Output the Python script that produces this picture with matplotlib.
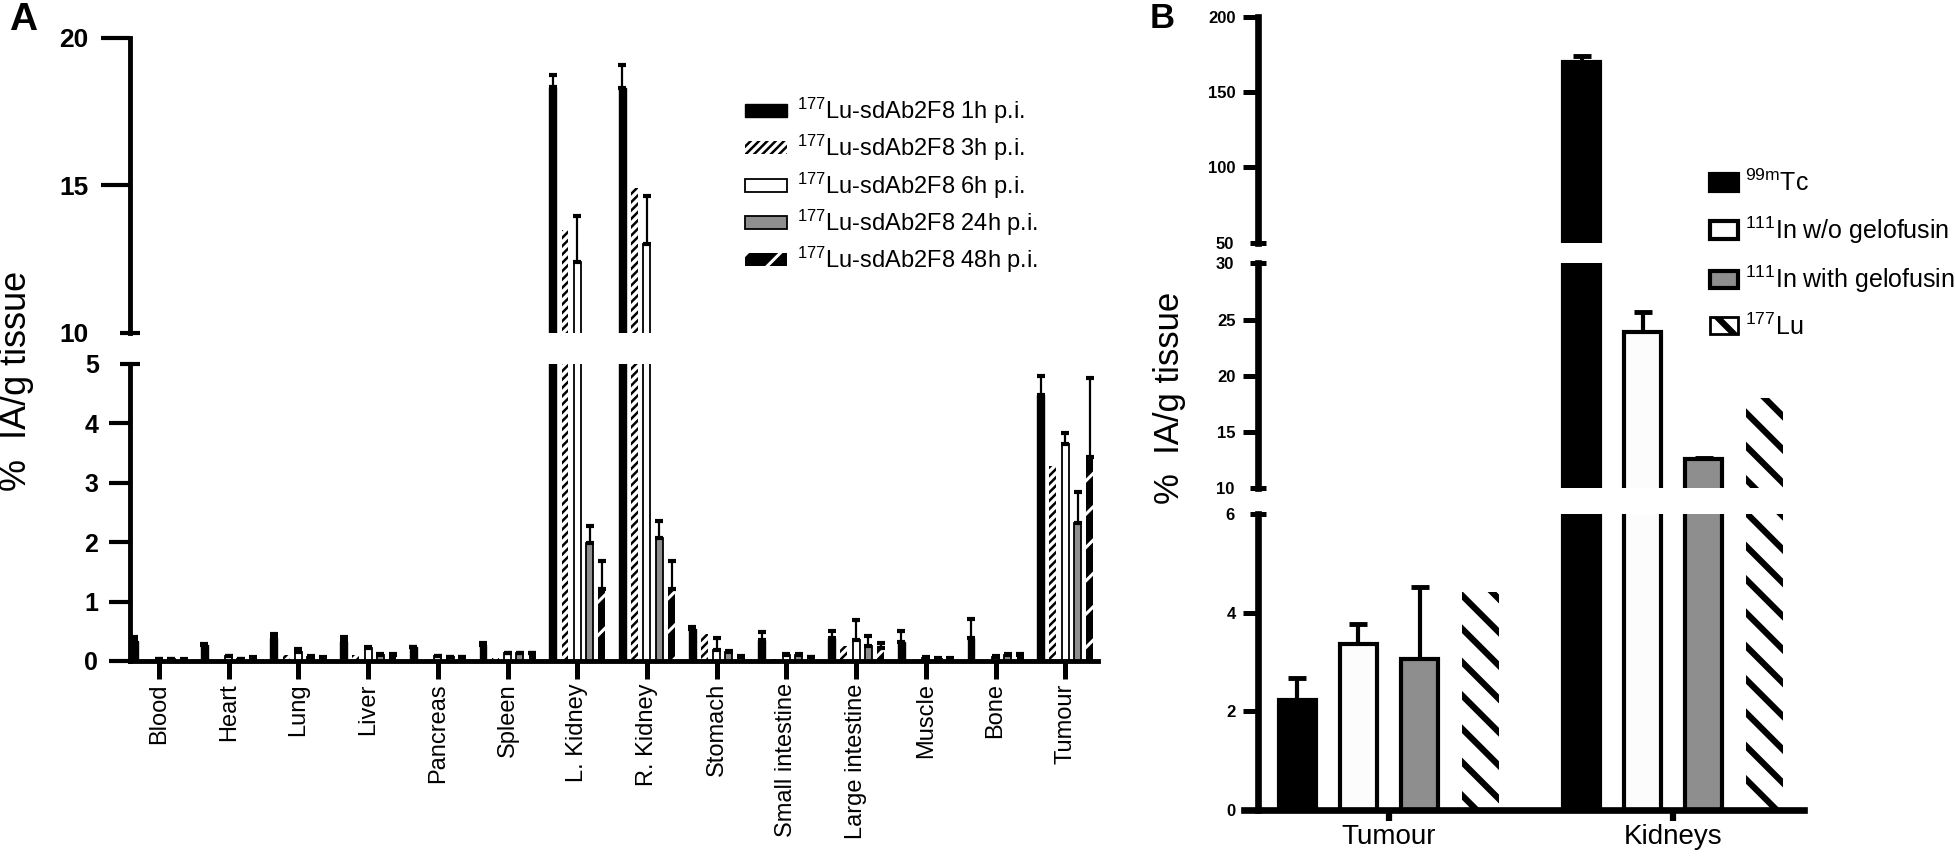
import matplotlib
matplotlib.use("Agg")
import matplotlib.pyplot as plt
from matplotlib.ticker import FixedLocator, FixedFormatter
import numpy as np

plt.rcParams['font.family'] = ['Liberation Sans', 'DejaVu Sans']
plt.rcParams['mathtext.default'] = 'regular'

# ---- Panel A: biodistribution of 177Lu-sdAb2F8 (% IA/g)
organs = ['Blood', 'Heart', 'Lung', 'Liver', 'Pancreas', 'Spleen', 'L. Kidney',
          'R. Kidney', 'Stomach', 'Small intestine', 'Large intestine',
          'Muscle', 'Bone', 'Tumour']
lu_1h = [0.34, 0.27, 0.38, 0.34, 0.23, 0.27, 18.32, 18.28, 0.54, 0.36, 0.39, 0.32, 0.39, 4.48]
lu_1h_err = [0.07, 0.02, 0.08, 0.07, 0.01, 0.03, 0.42, 0.79, 0.03, 0.13, 0.12, 0.19, 0.31, 0.31]
lu_3h = [0.01, 0.02, 0.10, 0.10, 0.02, 0.05, 13.5, 14.9, 0.45, 0.03, 0.25, 0.01, 0.01, 3.28]
lu_6h = [0.03, 0.08, 0.15, 0.22, 0.08, 0.13, 12.4, 13.0, 0.18, 0.10, 0.36, 0.05, 0.07, 3.66]
lu_6h_err = [0.01, 0.01, 0.05, 0.02, 0.01, 0.01, 1.56, 1.63, 0.21, 0.01, 0.33, 0.01, 0.01, 0.18]
lu_24h = [0.03, 0.03, 0.07, 0.10, 0.06, 0.13, 1.99, 2.07, 0.15, 0.10, 0.25, 0.04, 0.10, 2.33]
lu_24h_err = [0.01, 0.01, 0.01, 0.01, 0.01, 0.01, 0.28, 0.28, 0.01, 0.01, 0.17, 0.01, 0.01, 0.52]
lu_48h = [0.02, 0.05, 0.05, 0.10, 0.06, 0.13, 1.21, 1.21, 0.07, 0.06, 0.22, 0.04, 0.10, 3.43]
lu_48h_err = [0.01, 0.01, 0.01, 0.01, 0.01, 0.01, 0.48, 0.48, 0.01, 0.01, 0.08, 0.01, 0.01, 1.34]
labels_a = ['$^{177}$Lu-sdAb2F8 1h p.i.', '$^{177}$Lu-sdAb2F8 3h p.i.',
            '$^{177}$Lu-sdAb2F8 6h p.i.', '$^{177}$Lu-sdAb2F8 24h p.i.',
            '$^{177}$Lu-sdAb2F8 48h p.i.']

# ---- Panel B: tumour and kidney uptake per radiolabel
groups_b = ['Tumour', 'Kidneys']
tc99m = [2.23, 170.2]
tc99m_err = [0.45, 3.8]
in111_wo = [3.36, 23.87]
in111_wo_err = [0.42, 1.83]
in111_with = [3.07, 12.6]
in111_with_err = [1.46, 0.1]
lu177 = [4.41, 18.0]
labels_b = ['$^{99m}$Tc', '$^{111}$In w/o gelofusin', '$^{111}$In with gelofusin', '$^{177}$Lu']

W, H = 1956, 858
fig = plt.figure(figsize=(W / 100, H / 100), dpi=100)


def add_ax(left, top, right, bottom):
    return fig.add_axes([left / W, 1 - bottom / H, (right - left) / W, (bottom - top) / H])


def clean(ax, bottom, lw):
    for s in ['top', 'right']:
        ax.spines[s].set_visible(False)
    ax.spines['bottom'].set_visible(bottom)
    for s in ['left', 'bottom']:
        ax.spines[s].set_linewidth(lw)
        ax.spines[s].set_capstyle('projecting')
    ax.patch.set_alpha(0)


def yticks(ax, major, minor, size, maj_len, min_len, width, maj_pad, min_pad):
    ax.yaxis.set_major_locator(FixedLocator(major))
    ax.yaxis.set_major_formatter(FixedFormatter([str(v) for v in major]))
    ax.yaxis.set_minor_locator(FixedLocator(minor))
    ax.yaxis.set_minor_formatter(FixedFormatter([str(v) for v in minor]))
    ax.tick_params(axis='y', which='major', direction='out', length=maj_len, width=width,
                   pad=maj_pad, labelsize=size)
    ax.tick_params(axis='y', which='minor', direction='inout', length=min_len, width=width,
                   pad=min_pad, labelsize=size)
    for lab in ax.get_yticklabels(which='both'):
        lab.set_fontweight('bold')


def set_hatch_lw(patches, lw):
    for p in patches:
        if hasattr(p, 'set_hatch_linewidth'):
            p.set_hatch_linewidth(lw)


# ---------------- Panel A
series_a = [lu_1h, lu_3h, lu_6h, lu_24h, lu_48h]
errors_a = [lu_1h_err, None, lu_6h_err, lu_24h_err, lu_48h_err]
styles_a = [dict(color='black', edgecolor='black', linewidth=1),
            dict(color='white', edgecolor='black', hatch='////', linewidth=0),
            dict(color='white', edgecolor='black', linewidth=1.3),
            dict(color='#8e8e8e', edgecolor='black', linewidth=1.3),
            dict(color='black', edgecolor='white', hatch='/', linewidth=0)]
hatch_lw_a = [None, 1.8, None, None, 2.2]
offsets_a = [-0.352, -0.176, 0, 0.176, 0.352]

ax_a_top = add_ax(130, 37.7, 1098, 333)
ax_a_bot = add_ax(130, 364, 1098, 661)
x = np.arange(len(organs))
handles_a = []
for ax in [ax_a_top, ax_a_bot]:
    for k in range(5):
        bars = ax.bar(x + offsets_a[k], series_a[k], width=0.1, label=labels_a[k], zorder=2,
                      **styles_a[k])
        if hatch_lw_a[k]:
            set_hatch_lw(bars, hatch_lw_a[k])
        if ax is ax_a_bot:
            handles_a.append(bars)
        if errors_a[k] is not None:
            ax.errorbar(x + offsets_a[k], series_a[k],
                        yerr=[np.zeros(len(organs)), errors_a[k]], fmt='none',
                        ecolor='black', elinewidth=1.6, capsize=2.6, capthick=3, zorder=3)
    ax.set_xlim(-0.416, 13.47)

ax_a_top.set_ylim(10, 20)
ax_a_bot.set_ylim(0, 5)
clean(ax_a_top, False, 3.5)
clean(ax_a_bot, True, 3.5)
ax_a_top.set_xticks([])
yticks(ax_a_top, [15, 20], [10], 19, 21, 15, 3, 9, 22)
yticks(ax_a_bot, [0, 1, 2, 3, 4], [5], 18, 15, 15, 3, 8, 15)
ax_a_bot.set_xticks(x)
ax_a_bot.set_xticklabels(organs, rotation=90, fontsize=17)
ax_a_bot.tick_params(axis='x', direction='out', length=13, width=3.6, pad=3)

leg_a = ax_a_bot.legend(handles_a, labels_a, loc='upper left', frameon=False, fontsize=17,
                        bbox_to_anchor=(745 / W, 1 - 96 / H), bbox_transform=fig.transFigure,
                        borderpad=0, borderaxespad=0, handlelength=1.8, handleheight=0.47,
                        handletextpad=0.4, labelspacing=0.3)
for h, lw in zip(leg_a.legend_handles, hatch_lw_a):
    if lw:
        set_hatch_lw([h], lw)

fig.text(17 / W, 1 - 381 / H, '%  IA/g tissue', rotation=90, ha='center', va='center',
         fontsize=26)
fig.text(9 / W, 1 - 2 / H, 'A', ha='left', va='top', fontsize=28, fontweight='bold')

# ---------------- Panel B
series_b = [tc99m, in111_wo, in111_with, lu177]
errors_b = [tc99m_err, in111_wo_err, in111_with_err, None]
styles_b = [dict(color='black', edgecolor='black', linewidth=3),
            dict(color='#fcfcfc', edgecolor='black', linewidth=3),
            dict(color='#8e8e8e', edgecolor='black', linewidth=3),
            dict(color='white', edgecolor='black', hatch='\\', linewidth=0)]
offsets_b = [-0.3225, -0.1075, 0.1075, 0.3225]

ax_b1 = add_ax(1258, 16.7, 1804, 242.7)
ax_b2 = add_ax(1258, 263.3, 1804, 488.3)
ax_b3 = add_ax(1258, 514, 1804, 810)
xb = np.arange(len(groups_b))
handles_b = []
for ax in [ax_b1, ax_b2, ax_b3]:
    for k in range(4):
        bars = ax.bar(xb + offsets_b[k], series_b[k], width=0.13, label=labels_b[k], zorder=2,
                      **styles_b[k])
        if k == 3:
            set_hatch_lw(bars, 4.5)
        if ax is ax_b3:
            handles_b.append(bars)
        if errors_b[k] is not None:
            ax.errorbar(xb + offsets_b[k], series_b[k],
                        yerr=[np.zeros(len(groups_b)), errors_b[k]], fmt='none',
                        ecolor='black', elinewidth=3, capsize=6.5, capthick=3.5, zorder=1)
    ax.set_xlim(-0.461, 1.46)

ax_b1.set_ylim(50, 200)
ax_b2.set_ylim(10, 30)
ax_b3.set_ylim(0, 6)
for ax in [ax_b1, ax_b2]:
    clean(ax, False, 4.8)
    ax.set_xticks([])
clean(ax_b3, True, 4.8)
ax_b3.spines['bottom'].set_bounds(-0.51, 1.46)
yticks(ax_b1, [100, 150, 200], [50], 12, 11, 12, 3.6, 5, 11)
yticks(ax_b2, [15, 20, 25], [10, 30], 12, 11, 12, 3.6, 5, 11)
yticks(ax_b3, [0, 2, 4], [6], 12, 11, 12, 3.6, 5, 11)
ax_b3.set_xticks(xb)
ax_b3.set_xticklabels(groups_b, fontsize=20)
ax_b3.tick_params(axis='x', direction='out', length=8, width=4.5, pad=2)

leg_b = ax_b3.legend(handles_b, labels_b, loc='upper left', frameon=False, fontsize=18,
                     bbox_to_anchor=(1710 / W, 1 - 170 / H), bbox_transform=fig.transFigure,
                     borderpad=0, borderaxespad=0, handlelength=1.12, handleheight=0.68,
                     handletextpad=0.3, labelspacing=0.72)
lu_handle = leg_b.legend_handles[3]
lu_handle.set_edgecolor('black')
lu_handle.set_linewidth(2)
set_hatch_lw([lu_handle], 4.5)

fig.text(1170 / W, 1 - 398 / H, '%  IA/g tissue', rotation=90, ha='center', va='center',
         fontsize=25)
fig.text(1150 / W, 1 - 2 / H, 'B', ha='left', va='top', fontsize=25, fontweight='bold')

fig.savefig('out.png', dpi=100)
